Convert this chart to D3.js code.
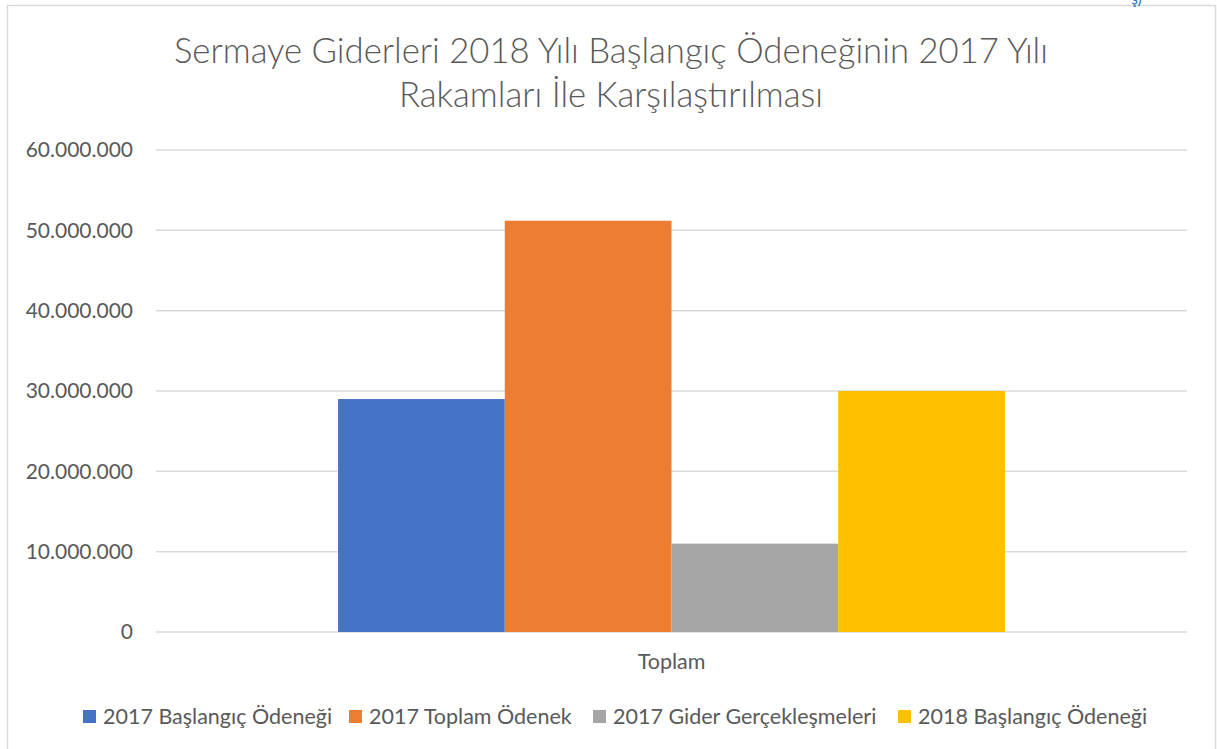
<!DOCTYPE html>
<html>
<head>
<meta charset="utf-8">
<script src="https://cdn.jsdelivr.net/npm/d3@7"></script>
<style>
  body { margin: 0; background: #fff; }
  text { font-family: Lato, "Open Sans", sans-serif; fill: #595959; }
</style>
</head>
<body>
<div id="chart"></div>
<script>
// chart data
var categories = ["Toplam"];
var seriesNames = ["2017 Başlangıç Ödeneği", "2017 Toplam Ödenek", "2017 Gider Gerçekleşmeleri", "2018 Başlangıç Ödeneği"];
var seriesValues = [29000000, 51200000, 11000000, 30000000];
var seriesColors = ["#4472c4", "#ed7d31", "#a5a5a5", "#ffc000"];
var yTicks = [0, 10000000, 20000000, 30000000, 40000000, 50000000, 60000000];
var titleLines = ["Sermaye Giderleri 2018 Yılı Başlangıç Ödeneğinin 2017 Yılı", "Rakamları İle Karşılaştırılması"];

var svgWidth = 1217;
var svgHeight = 749;

var margin = { top: 150, right: 30, bottom: 117, left: 156 };
var width = 1187 - margin.left;
var height = 632 - margin.top;

var svg = d3.select("#chart")
    .append("svg")
    .attr("width", svgWidth)
    .attr("height", svgHeight);

// outer chart frame
svg.append("rect")
    .attr("x", 7.5)
    .attr("y", 5.5)
    .attr("width", 1208)
    .attr("height", 760)
    .attr("fill", "none")
    .attr("stroke", "#d9d9d9")
    .attr("stroke-width", 1.5);

// cut-off page text peeking above the frame (as in the source image)
svg.append("text")
    .attr("x", 1131)
    .attr("y", 4)
    .attr("font-size", "16px")
    .style("fill", "#2e74b5")
    .text("ş)");

// title
svg.selectAll("text.title")
    .data(titleLines)
    .enter()
    .append("text")
    .attr("class", "title")
    .attr("x", 611)
    .attr("y", (d, i) => 63 + i * 44)
    .attr("text-anchor", "middle")
    .attr("font-size", "34.7px")
    .attr("font-weight", 300)
    .text(d => d);

var chartGroup = svg.append("g")
    .attr("transform", `translate(${margin.left}, ${margin.top})`);

var yScale = d3.scaleLinear()
    .domain([0, 60000000])
    .range([height, 0]);

var xScale = d3.scaleBand()
    .domain(categories)
    .range([0, width])
    .paddingInner(0)
    .paddingOuter(0.273);

var x1 = d3.scaleBand()
    .domain(seriesNames)
    .range([0, xScale.bandwidth()]);

// gridlines
chartGroup.append("g")
    .selectAll("line")
    .data(yTicks)
    .enter()
    .append("line")
    .attr("x1", 0)
    .attr("x2", width)
    .attr("y1", d => yScale(d))
    .attr("y2", d => yScale(d))
    .attr("stroke", "#d9d9d9")
    .attr("stroke-width", 1.5);

// y axis labels
var fmt = d3.formatLocale({ decimal: ",", thousands: ".", grouping: [3], currency: ["", ""] }).format(",d");
var yAxis = d3.axisLeft(yScale)
    .tickValues(yTicks)
    .tickFormat(fmt)
    .tickSize(0)
    .tickPadding(23);

chartGroup.append("g")
    .classed("yAxis", true)
    .call(yAxis)
    .call(g => g.select(".domain").remove())
    .selectAll("text")
    .attr("font-size", "21px")
    .attr("font-family", "Lato, sans-serif")
    .attr("fill", "#595959");

// bars
var barData = seriesNames.map((name, i) => ({ cat: categories[0], name: name, value: seriesValues[i], color: seriesColors[i] }));

chartGroup.selectAll("rect.bar")
    .data(barData)
    .enter()
    .append("rect")
    .attr("class", "bar")
    .attr("x", d => xScale(d.cat) + x1(d.name))
    .attr("y", d => yScale(d.value))
    .attr("width", x1.bandwidth())
    .attr("height", d => height - yScale(d.value))
    .attr("fill", d => d.color);

// x axis
var xAxis = d3.axisBottom(xScale).tickSize(0).tickPadding(22);
chartGroup.append("g")
    .classed("xAxis", true)
    .attr("transform", `translate(0, ${height})`)
    .call(xAxis)
    .call(g => g.select(".domain").remove())
    .selectAll("text")
    .attr("font-size", "21.5px")
    .attr("font-family", "Lato, sans-serif")
    .attr("fill", "#595959");

// legend
var legendX = [83, 349, 593, 898];
var legend = svg.append("g");
var items = legend.selectAll("g")
    .data(seriesNames)
    .enter()
    .append("g")
    .attr("transform", (d, i) => `translate(${legendX[i]}, 710)`);

items.append("rect")
    .attr("width", 13)
    .attr("height", 13)
    .attr("fill", (d, i) => seriesColors[i]);

items.append("text")
    .attr("x", 20)
    .attr("y", 14)
    .attr("font-size", "21.5px")
    .text(d => d);
</script>
</body>
</html>
